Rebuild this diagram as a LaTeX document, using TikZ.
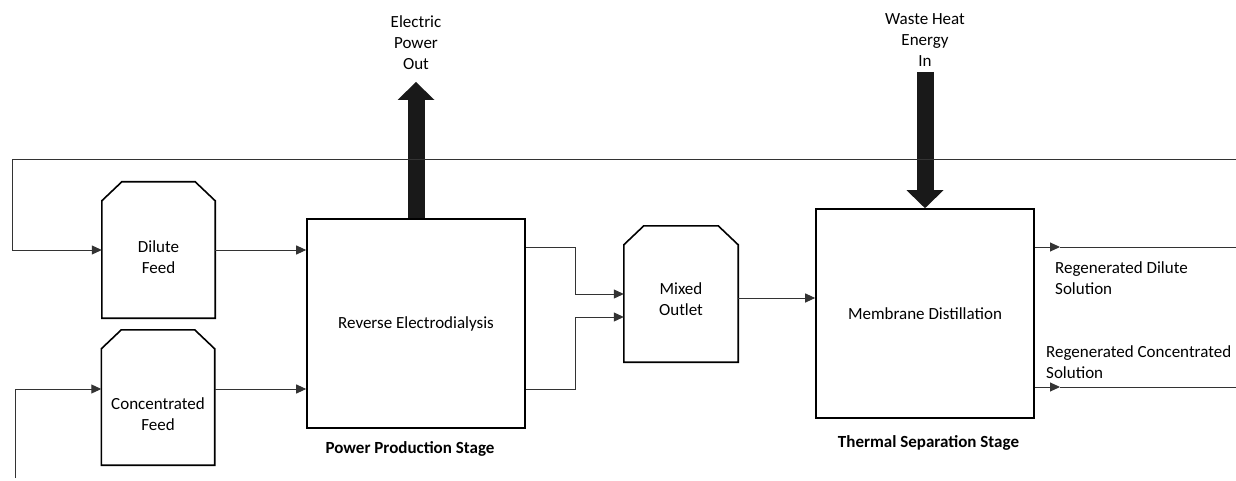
\documentclass[tikz,border=0pt]{standalone}
\usepackage{fontspec}
\setmainfont{Carlito}
\usetikzlibrary{arrows.meta,positioning,calc}

\begin{document}
\begin{tikzpicture}[x=1pt, y=-1pt,
    font=\fontsize{17}{21}\selectfont,
    tank/.style={rectangle, minimum width=113pt, minimum height=136pt, inner sep=0pt},
    tankline/.style={line width=1.6pt, line join=miter},
    stage/.style={draw, line width=1.6pt, minimum width=218pt, minimum height=209pt, inner sep=0pt},
    flow/.style={draw=black!80, line width=1pt, -{Triangle[length=10pt,width=9pt]}},
    pipe/.style={draw=black!80, line width=1pt},
    bigarrow/.style={draw=black!90, line width=17pt, -{Triangle[length=18pt,width=37pt,line width=0pt]}},
    txt/.style={align=center, inner sep=0pt},
    lefttxt/.style={align=left, anchor=west, inner sep=0pt},
    stagelabel/.style={font=\fontsize{17}{21}\selectfont\bfseries, inner sep=0pt}
]
    \useasboundingbox (0,0) rectangle (1236,481);

    % Feed tanks
    \node[tank] (dilute) at (158.5,250) {};
    \node[txt] (dilutetxt) at (158.5,257) {Dilute\\Feed};
    \node[tank, minimum height=135pt] (conc) at (158,397.5) {};
    \node[txt] (conctxt) at (158,414.5) {Concentrated\\Feed};

    % Power production stage
    \node[stage] (red) at (416,323.5) {Reverse Electrodialysis};
    \node[stagelabel] (redlabel) at (410,449) {Power Production Stage};

    % Mixing tank
    \node[tank, minimum width=114pt] (mixed) at (681,294) {};
    \node[txt] (mixedtxt) at (681,299.5) {Mixed\\Outlet};

    % Tank outlines (chamfered top corners)
    \foreach \t in {dilute,conc,mixed} {
        \draw[tankline] ($(\t.north west)+(0,19)$) -- ++(20,-19)
            -- ($(\t.north east)+(-20,0)$) -- ++(20,19)
            -- (\t.south east) -- (\t.south west) -- cycle;
    }

    % Thermal separation stage
    \node[stage] (md) at (925,313.5) {Membrane Distillation};
    \node[stagelabel] (mdlabel) at (928.5,443) {Thermal Separation Stage};

    % Energy in and out
    \node[txt] (powertxt) at (416,43) {Electric\\Power\\Out};
    \coordinate (powertip) at (416,82);
    \draw[bigarrow] (red.north -| powertip) -- (powertip);
    \node[txt] (heattxt) at (925,40.5) {Waste Heat\\Energy\\In};
    \coordinate (heattop) at (925,72);
    \draw[bigarrow] (heattop) -- (md.north -| heattop);

    % Recycle loops
    \coordinate (loopR) at (1236,160);
    \coordinate (loopL) at (12,160);
    \draw[flow] (loopR) -- (loopL) |- (dilute.west);
    \coordinate (concin) at (15,478);
    \draw[flow] (concin) |- ([yshift=8.5pt]conc.west);

    % Feeds into RED
    \draw[flow] (dilute.east) -- (dilute.east -| red.west);
    \draw[flow] ([yshift=8.5pt]conc.east) -- ([yshift=8.5pt]conc.east -| red.west);

    % RED outlets into mixing tank
    \draw[flow] ([yshift=76pt]red.east) -- ++(50,0) |- (mixed.west);
    \draw[flow] ([yshift=-66pt]red.east) -- ++(50,0) |- ([yshift=-23pt]mixed.west);

    % Mixed outlet into MD
    \draw[flow] ([yshift=-4pt]mixed.east) -- ([yshift=-4pt]mixed.east -| md.west);

    % Regenerated solutions
    \coordinate (dilout) at (1060,247);
    \coordinate (dilend) at (1236,247);
    \draw[flow] (md.east |- dilout) -- (dilout);
    \draw[pipe] (dilout) -- (dilend);
    \node[lefttxt] (diltxt) at (1055,278.5) {Regenerated Dilute\\Solution};
    \coordinate (concout) at (1060,387);
    \coordinate (concend) at (1236,387);
    \draw[flow] (md.east |- concout) -- (concout);
    \draw[pipe] (concout) -- (concend);
    \node[lefttxt] (conctxt2) at (1046,362.5) {Regenerated Concentrated\\Solution};

\end{tikzpicture}
\end{document}
